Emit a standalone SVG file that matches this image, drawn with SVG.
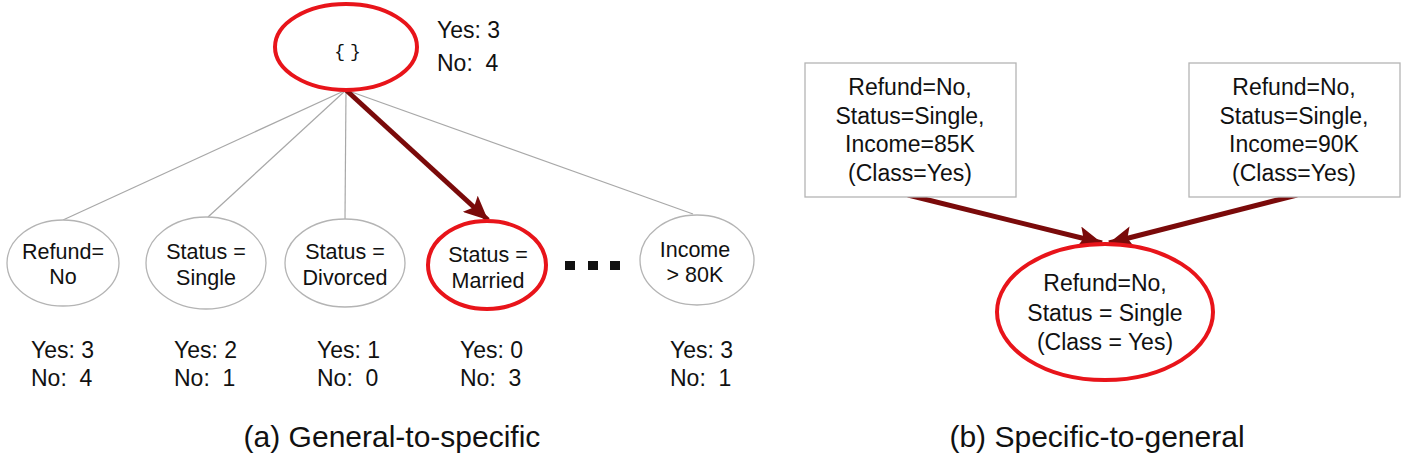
<svg xmlns="http://www.w3.org/2000/svg" width="1404" height="460" viewBox="0 0 1404 460">
<style>
text{font-family:"Liberation Sans",Arial,sans-serif;fill:#111}
.n{font-size:21.5px;text-anchor:middle}
.c{font-size:23px}
.b{font-size:23px;text-anchor:middle}
.cap{font-size:30px;text-anchor:middle}
.grey{fill:#fff;stroke:#b4b4b4;stroke-width:1.3}
.red{fill:#fff;stroke:#e8141a;stroke-width:4}
.thin{stroke:#a8a8a8;stroke-width:1.2;fill:none}
.thick{stroke:#7a0a0a;stroke-width:5;fill:none;marker-end:url(#ah)}
</style>
<defs>
<marker id="ah" markerUnits="userSpaceOnUse" markerWidth="26" markerHeight="22" refX="24" refY="11" orient="auto">
<path d="M0,0 L24,11 L0,22 L5,11 Z" fill="#7a0a0a"/>
</marker>
</defs>
<rect width="1404" height="460" fill="#fff"/>
<g id="connectors">
<line class="thin" x1="346" y1="90" x2="63" y2="220"/>
<line class="thin" x1="346" y1="90" x2="208" y2="217"/>
<line class="thin" x1="346" y1="90" x2="345" y2="219"/>
<line class="thin" x1="346" y1="90" x2="693" y2="214"/>
<line class="thick" x1="346" y1="90" x2="488" y2="220"/>
<line class="thick" x1="908" y1="195" x2="1102" y2="243"/>
<line class="thick" x1="1297" y1="195" x2="1109" y2="243"/>
</g>
<g id="root">
<ellipse class="red" cx="346" cy="47" rx="71" ry="43"/>
<text x="346" y="57" style="font-family:'Liberation Mono','Courier New',monospace;font-size:18px;text-anchor:middle;letter-spacing:-3px">{ }</text>
<text class="c" x="437" y="38">Yes: 3</text>
<text class="c" x="437" y="71" xml:space="preserve">No:  4</text>
</g>
<g id="refund">
<ellipse class="grey" cx="63" cy="263" rx="56" ry="43"/>
<text class="n" x="63" y="259">Refund=</text>
<text class="n" x="63" y="284">No</text>
<text class="c" x="31" y="358">Yes: 3</text>
<text class="c" x="31" y="386" xml:space="preserve">No:  4</text>
</g>
<g id="single">
<ellipse class="grey" cx="206" cy="263" rx="60" ry="46"/>
<text class="n" x="206" y="259">Status =</text>
<text class="n" x="206" y="285">Single</text>
<text class="c" x="174" y="358">Yes: 2</text>
<text class="c" x="174" y="386" xml:space="preserve">No:  1</text>
</g>
<g id="divorced">
<ellipse class="grey" cx="345" cy="263" rx="60" ry="44"/>
<text class="n" x="345" y="259">Status =</text>
<text class="n" x="345" y="285">Divorced</text>
<text class="c" x="317" y="358">Yes: 1</text>
<text class="c" x="317" y="386" xml:space="preserve">No:  0</text>
</g>
<g id="married">
<ellipse class="red" cx="487" cy="265" rx="59" ry="44"/>
<text class="n" x="488" y="262">Status =</text>
<text class="n" x="488" y="288">Married</text>
<text class="c" x="460" y="358">Yes: 0</text>
<text class="c" x="460" y="386" xml:space="preserve">No:  3</text>
</g>
<g id="dots" fill="#111">
<rect x="565" y="261" width="10" height="9"/>
<rect x="588" y="261" width="10" height="9"/>
<rect x="610" y="261" width="10" height="9"/>
</g>
<g id="income">
<ellipse class="grey" cx="697" cy="260" rx="57" ry="45"/>
<text class="n" x="695" y="257">Income</text>
<text class="n" x="695" y="282">&gt; 80K</text>
<text class="c" x="670" y="358">Yes: 3</text>
<text class="c" x="670" y="386" xml:space="preserve">No:  1</text>
</g>
<g id="box1">
<rect class="grey" x="805" y="63" width="211" height="134"/>
<text class="b" x="910" y="95">Refund=No,</text>
<text class="b" x="910" y="124">Status=Single,</text>
<text class="b" x="910" y="152">Income=85K</text>
<text class="b" x="910" y="181">(Class=Yes)</text>
</g>
<g id="box2">
<rect class="grey" x="1189" y="63" width="211" height="134"/>
<text class="b" x="1294" y="95">Refund=No,</text>
<text class="b" x="1294" y="124">Status=Single,</text>
<text class="b" x="1294" y="152">Income=90K</text>
<text class="b" x="1294" y="181">(Class=Yes)</text>
</g>
<g id="general">
<ellipse class="red" cx="1105" cy="312" rx="108" ry="68"/>
<text class="b" x="1105" y="291">Refund=No,</text>
<text class="b" x="1105" y="321">Status = Single</text>
<text class="b" x="1105" y="350">(Class = Yes)</text>
</g>
<g id="captions">
<text class="cap" x="392" y="447">(a) General-to-specific</text>
<text class="cap" x="1097" y="447">(b) Specific-to-general</text>
</g>
</svg>
